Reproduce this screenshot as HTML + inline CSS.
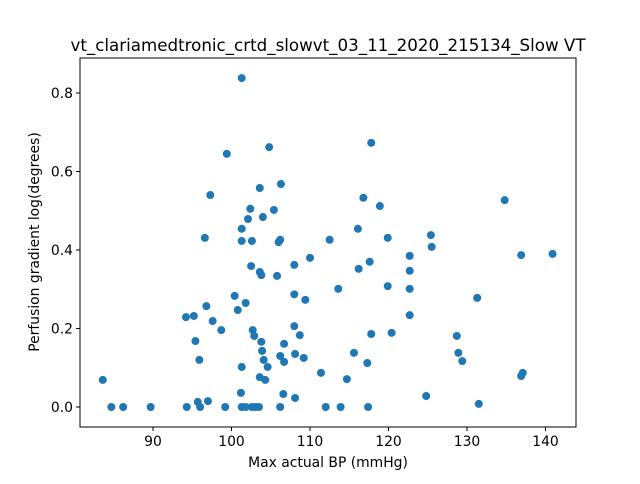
<!DOCTYPE html>
<html><head><meta charset="utf-8"><style>
body{margin:0;background:#fff;font-family:"DejaVu Sans","Liberation Sans",sans-serif}
</style></head><body>
<svg id="chart" width="640" height="480" xmlns="http://www.w3.org/2000/svg" font-family="DejaVu Sans, Liberation Sans, sans-serif">
<rect width="640" height="480" fill="#fff"/>
<text x="328" y="51" text-anchor="middle" font-size="16.7">vt_clariamedtronic_crtd_slowvt_03_11_2020_215134_Slow VT</text>
<g id="marks"></g>
<g id="axes"></g>
<rect x="80" y="58" width="496" height="369" fill="none" stroke="#000" stroke-width="1"/>
<text x="328" y="467" text-anchor="middle" font-size="13.9">Max actual BP (mmHg)</text>
<text transform="translate(39,242) rotate(-90)" text-anchor="middle" font-size="13.9">Perfusion gradient log(degrees)</text>
</svg>
<script>
const xValues=[83.6,84.7,86.2,89.7,94.3,94.2,95.2,95.4,95.7,95.9,96.0,96.8,97.0,96.6,97.3,97.6,98.7,99.2,99.4,100.4,100.8,101.3,101.2,101.3,101.3,101.3,101.3,101.8,101.8,102.1,102.4,102.5,102.6,102.7,102.9,102.6,103.1,103.5,103.6,103.6,103.6,103.8,103.8,103.9,104.0,104.1,104.3,104.6,104.8,105.4,105.8,106.0,106.2,106.2,106.2,106.3,106.6,106.7,106.7,108.0,108.0,108.0,108.1,108.1,108.7,109.4,109.2,110.0,111.4,112.0,112.5,113.6,113.9,114.7,115.6,116.1,116.2,116.8,117.3,117.4,117.6,117.8,117.8,118.9,119.9,119.9,120.4,122.7,122.7,122.7,122.7,124.8,125.4,125.5,128.7,128.9,129.4,131.3,131.5,134.8,136.9,136.9,137.1,140.9];
const yValues=[0.069,0,0,0,0,0.229,0.232,0.168,0.013,0.120,0,0.257,0.015,0.431,0.540,0.219,0.196,0,0.645,0.283,0.247,0.838,0.036,0.454,0.423,0.102,0,0,0.265,0.479,0.505,0.359,0.423,0.196,0.181,0,0,0,0.558,0.076,0.344,0.336,0.166,0.143,0.484,0.120,0.069,0.102,0.662,0.502,0.334,0.420,0.426,0.130,0,0.568,0.033,0.161,0.115,0.362,0.287,0.206,0.135,0.023,0.183,0.273,0.125,0.380,0.087,0,0.426,0.301,0,0.071,0.138,0.454,0.352,0.533,0.112,0,0.370,0.673,0.186,0.512,0.431,0.308,0.189,0.385,0.347,0.301,0.234,0.028,0.438,0.408,0.181,0.138,0.117,0.278,0.008,0.527,0.387,0.079,0.087,0.390];
const xTicks=[90,100,110,120,130,140];
const yTicks=[0.0,0.2,0.4,0.6,0.8];
const xTickLabels=["90","100","110","120","130","140"];
const yTickLabels=["0.0","0.2","0.4","0.6","0.8"];
const NS="http://www.w3.org/2000/svg";
function sx(v){return 153+(v-90)*7.85;}
function sy(v){return 407-v*392.5;}
const marks=document.getElementById('marks');
for(let i=0;i<xValues.length;i++){
  const c=document.createElementNS(NS,'circle');
  c.setAttribute('cx',sx(xValues[i]));c.setAttribute('cy',sy(yValues[i]));
  c.setAttribute('r',4);c.setAttribute('fill','#1f77b4');
  
  
  marks.appendChild(c);
}
const axes=document.getElementById('axes');
xTicks.forEach((t,i)=>{
  const l=document.createElementNS(NS,'line');
  l.setAttribute('x1',sx(t));l.setAttribute('x2',sx(t));l.setAttribute('y1',427);l.setAttribute('y2',431);l.setAttribute('stroke','#000');
  
  
  axes.appendChild(l);
  const tx=document.createElementNS(NS,'text');
  tx.setAttribute('x',sx(t));tx.setAttribute('y',446);tx.setAttribute('text-anchor','middle');tx.setAttribute('font-size','13.9');
  tx.textContent=xTickLabels[i];
  
  
  axes.appendChild(tx);
});
yTicks.forEach((t,i)=>{
  const l=document.createElementNS(NS,'line');
  l.setAttribute('x1',76);l.setAttribute('x2',80);l.setAttribute('y1',sy(t));l.setAttribute('y2',sy(t));l.setAttribute('stroke','#000');
  
  
  axes.appendChild(l);
  const tx=document.createElementNS(NS,'text');
  tx.setAttribute('x',73);tx.setAttribute('y',sy(t)+5);tx.setAttribute('text-anchor','end');tx.setAttribute('font-size','13.9');
  tx.textContent=yTickLabels[i];
  
  
  axes.appendChild(tx);
});
</script>
</body></html>
